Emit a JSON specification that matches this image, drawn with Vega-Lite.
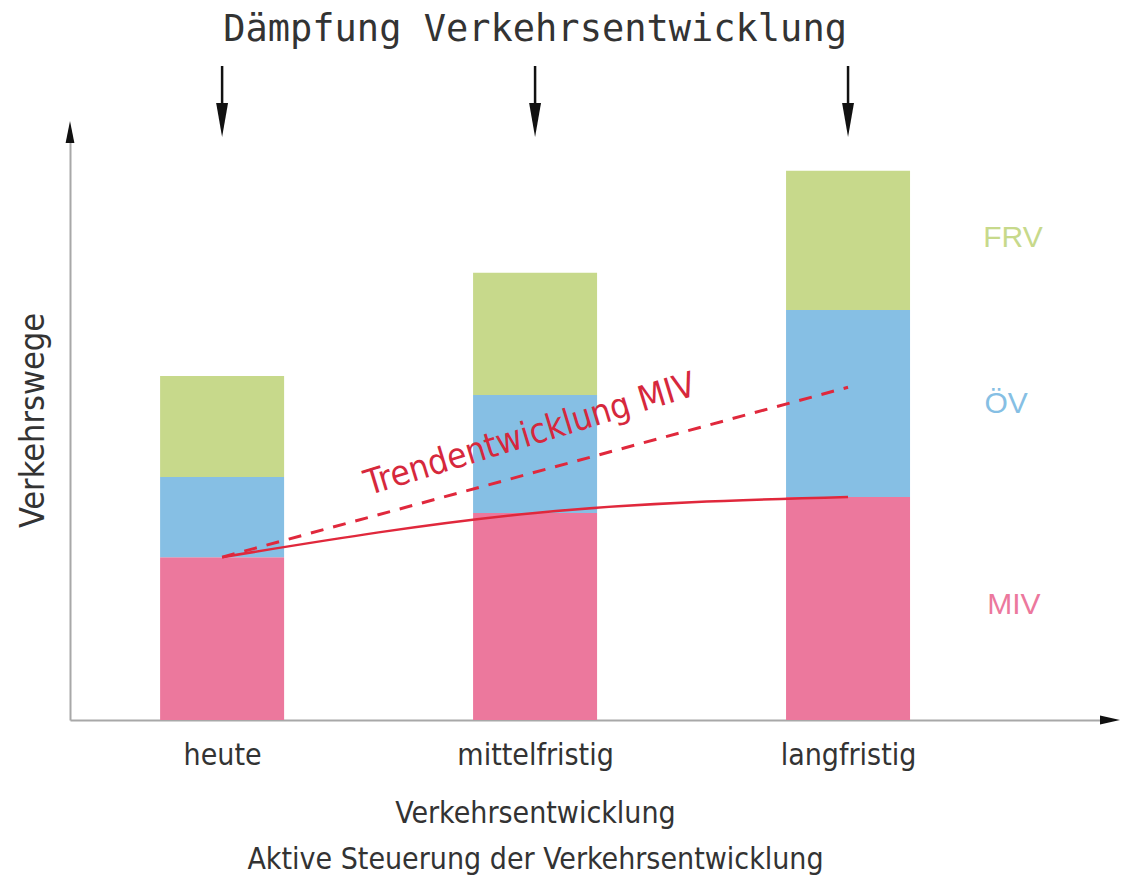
{
  "$schema": "https://vega.github.io/schema/vega-lite/v6.json",
  "width": 1040,
  "height": 590,
  "autosize": {"type": "none"},
  "padding": {"left": 70, "top": 130, "right": 16, "bottom": 158},
  "background": "white",
  "config": {"view": {"stroke": null}, "font": "DejaVu Sans Condensed, Lato, sans-serif"},
  "datasets": {
    "bars": [
      {"stage": "heute", "pos": 1, "mode": "MIV", "order": 1, "value": 27.6},
      {"stage": "heute", "pos": 1, "mode": "ÖV", "order": 2, "value": 13.6},
      {"stage": "heute", "pos": 1, "mode": "FRV", "order": 3, "value": 17.1},
      {"stage": "mittelfristig", "pos": 2, "mode": "MIV", "order": 1, "value": 35.1},
      {"stage": "mittelfristig", "pos": 2, "mode": "ÖV", "order": 2, "value": 20.0},
      {"stage": "mittelfristig", "pos": 2, "mode": "FRV", "order": 3, "value": 20.7},
      {"stage": "langfristig", "pos": 3, "mode": "MIV", "order": 1, "value": 37.8},
      {"stage": "langfristig", "pos": 3, "mode": "ÖV", "order": 2, "value": 31.7},
      {"stage": "langfristig", "pos": 3, "mode": "FRV", "order": 3, "value": 23.6}
    ],
    "steuerung": [
      {"stage": "heute", "pos": 1, "value": 27.6},
      {"stage": "mittelfristig", "pos": 2, "value": 35.1},
      {"stage": "langfristig", "pos": 3, "value": 37.8}
    ],
    "trend": [
      {"stage": "heute", "pos": 1, "value": 27.6},
      {"stage": "langfristig", "pos": 3, "value": 56.4}
    ],
    "arrows": [
      {"stage": "heute", "pos": 1},
      {"stage": "mittelfristig", "pos": 2},
      {"stage": "langfristig", "pos": 3}
    ],
    "one": [{"k": 1}]
  },
  "layer": [
    {
      "data": {"name": "bars"},
      "mark": {"type": "bar", "width": 124},
      "encoding": {
        "x": {
          "field": "pos",
          "type": "quantitative",
          "scale": {"domain": [0.514, 3.837], "nice": false, "zero": false, "padding": 0},
          "axis": {
            "values": [1, 2, 3],
            "labelExpr": "['', 'heute', 'mittelfristig', 'langfristig'][datum.value]",
            "grid": false,
            "ticks": false,
            "domainColor": "#a8a8a8",
            "domainWidth": 2,
            "labelFont": "DejaVu Sans Condensed, Lato, sans-serif",
            "labelFontSize": 30,
            "labelColor": "#333333",
            "labelPadding": 20,
            "title": ["Verkehrsentwicklung", "Aktive Steuerung der Verkehrsentwicklung"],
            "titleFont": "DejaVu Sans Condensed, Lato, sans-serif",
            "titleFontSize": 30,
            "titleFontWeight": "normal",
            "titleColor": "#333333",
            "titleX": 465,
            "titleY": 102,
            "titleAlign": "center",
            "titleBaseline": "alphabetic",
            "titleLineHeight": 46
          }
        },
        "y": {
          "field": "value",
          "type": "quantitative",
          "stack": "zero",
          "scale": {"domain": [0, 100], "nice": false, "padding": 0},
          "axis": {
            "grid": false,
            "ticks": false,
            "labels": false,
            "domainColor": "#a8a8a8",
            "domainWidth": 2,
            "title": "Verkehrswege",
            "titleFont": "DejaVu Sans Condensed, Lato, sans-serif",
            "titleFontSize": 34,
            "titleFontWeight": "normal",
            "titleColor": "#333333",
            "titleX": -37,
            "titleY": 290,
            "titleAngle": 270,
            "titleAlign": "center",
            "titleBaseline": "middle"
          }
        },
        "color": {
          "field": "mode",
          "type": "nominal",
          "scale": {"domain": ["MIV", "ÖV", "FRV"], "range": ["#ec789d", "#86bfe4", "#c7d98b"]},
          "legend": null
        },
        "order": {"field": "order", "type": "quantitative"}
      }
    },
    {
      "data": {"name": "steuerung"},
      "mark": {"type": "line", "color": "#e0283c", "strokeWidth": 2.5, "interpolate": "monotone"},
      "encoding": {
        "x": {"field": "pos", "type": "quantitative"},
        "y": {"field": "value", "type": "quantitative"}
      }
    },
    {
      "data": {"name": "trend"},
      "mark": {"type": "line", "color": "#e0283c", "strokeWidth": 3, "strokeDash": [13, 10]},
      "encoding": {
        "x": {"field": "pos", "type": "quantitative"},
        "y": {"field": "value", "type": "quantitative"}
      }
    },
    {
      "data": {"name": "one"},
      "mark": {"type": "text", "text": "Trendentwicklung MIV", "angle": -17, "fontSize": 35, "font": "DejaVu Sans Condensed, Lato, sans-serif", "color": "#d6283c", "align": "center", "baseline": "middle"},
      "encoding": {"x": {"datum": 1.984}, "y": {"datum": 48.4}}
    },
    {
      "data": {"name": "one"},
      "mark": {"type": "text", "text": "FRV", "fontSize": 30, "font": "Liberation Sans, sans-serif", "align": "center", "baseline": "middle"},
      "encoding": {"x": {"datum": 3.527}, "y": {"datum": 81.7}, "color": {"datum": "FRV"}}
    },
    {
      "data": {"name": "one"},
      "mark": {"type": "text", "text": "ÖV", "fontSize": 30, "font": "Liberation Sans, sans-serif", "align": "center", "baseline": "middle"},
      "encoding": {"x": {"datum": 3.505}, "y": {"datum": 53.6}, "color": {"datum": "ÖV"}}
    },
    {
      "data": {"name": "one"},
      "mark": {"type": "text", "text": "MIV", "fontSize": 30, "font": "Liberation Sans, sans-serif", "align": "center", "baseline": "middle"},
      "encoding": {"x": {"datum": 3.53}, "y": {"datum": 19.5}, "color": {"datum": "MIV"}}
    },
    {
      "data": {"name": "one"},
      "mark": {"type": "text", "text": "Dämpfung Verkehrsentwicklung", "fontSize": 37, "font": "DejaVu Sans Mono, monospace", "color": "#333333", "align": "center", "baseline": "middle"},
      "encoding": {"x": {"datum": 2}, "y": {"datum": 116.9}}
    },
    {
      "data": {"name": "arrows"},
      "mark": {"type": "rule", "color": "#111111", "strokeWidth": 2.5},
      "encoding": {
        "x": {"field": "pos", "type": "quantitative"},
        "y": {"datum": 110.85},
        "y2": {"datum": 103.5}
      }
    },
    {
      "data": {"name": "arrows"},
      "mark": {"type": "point", "shape": "M-0.35,-1L0.35,-1L0,1Z", "size": 1156, "filled": true, "color": "#111111", "opacity": 1},
      "encoding": {
        "x": {"field": "pos", "type": "quantitative"},
        "y": {"datum": 101.7}
      }
    },
    {
      "data": {"name": "one"},
      "mark": {"type": "point", "shape": "M-0.4,1L0.4,1L0,-1Z", "size": 484, "filled": true, "color": "#111111", "opacity": 1},
      "encoding": {"x": {"datum": 0.514}, "y": {"datum": 99.66}}
    },
    {
      "data": {"name": "one"},
      "mark": {"type": "point", "shape": "M-1,-0.45L1,0L-1,0.45Z", "size": 400, "filled": true, "color": "#111111", "opacity": 1},
      "encoding": {"x": {"datum": 3.837}, "y": {"datum": 0}}
    }
  ]
}
